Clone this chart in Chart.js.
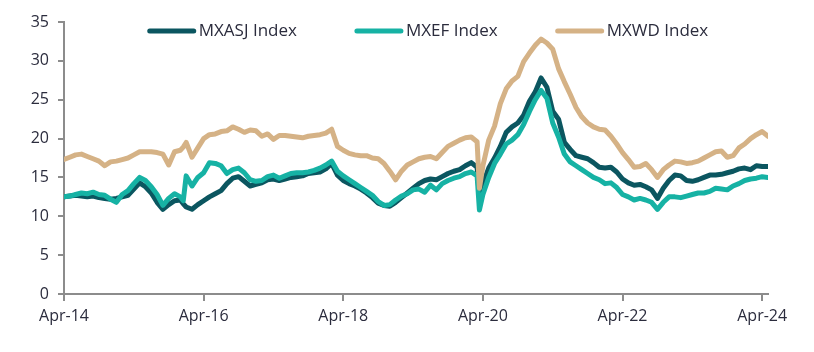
<!DOCTYPE html>
<html>
<head>
<meta charset="utf-8">
<script src="https://cdn.jsdelivr.net/npm/chart.js@4"></script>
<style>
  body { margin: 0; background: #fff; }
  #wrap { width: 814px; height: 352px; }
</style>
</head>
<body>
<div id="wrap"><canvas id="volChart" width="814" height="352"></canvas></div>
<script>
// months since Apr-14 (a couple of extra points for the sharp moves)
const months = [
  0, 1, 2, 3, 4, 5, 6, 7, 8, 9, 10, 11, 12, 13, 14, 15, 16, 17, 18, 19, 20, 20.5,
  21, 22, 23, 24, 25, 26, 27, 28, 29, 30, 31, 32, 33, 34, 35, 36, 37, 38, 39,
  40, 41, 42, 43, 44, 45, 46, 47, 48, 49, 50, 51, 52, 53, 54, 55, 56, 57, 58, 59,
  60, 61, 62, 63, 64, 65, 66, 67, 68, 69, 70, 71, 71.4,
  72, 73, 74, 75, 76, 77, 78, 79, 80, 81, 82, 83, 84, 85, 86, 87, 88, 89,
  90, 91, 92, 93, 94, 95, 96, 97, 98, 99, 100, 101, 102, 103, 104, 105, 106, 107, 108, 109,
  110, 111, 112, 113, 114, 115, 116, 117, 118, 119, 120, 121
];

const mxasj = [
  12.5, 12.6, 12.7, 12.6, 12.5, 12.6, 12.4, 12.3, 12.2, 12.3,
  12.5, 12.7, 13.5, 14.3, 13.8, 13.0, 11.8, 10.9, 11.5, 12.0,
  12.1, 11.6,
  11.2, 10.9, 11.5, 12.0, 12.5, 12.9, 13.3, 14.2, 14.9,
  15.1, 14.5, 13.9, 14.1, 14.3, 14.7, 14.8, 14.6, 14.8, 15.0,
  15.1, 15.2, 15.5, 15.6, 15.7, 16.1, 16.8, 15.3, 14.6, 14.2,
  13.9, 13.5, 13.0, 12.4, 11.7, 11.4, 11.3, 11.8, 12.4, 13.0,
  13.6, 14.2, 14.6, 14.8, 14.7, 15.1, 15.5, 15.8, 16.0, 16.5,
  16.9, 16.3, 12.5,
  14.2, 16.2, 17.5, 19.0, 20.8, 21.5, 22.0, 23.0,
  24.8, 26.0, 27.8, 26.6, 23.5, 22.5, 19.5, 18.6, 17.8, 17.6,
  17.4, 16.9, 16.3, 16.2, 16.3, 15.7, 14.8, 14.3, 14.0, 14.1,
  13.8, 13.4, 12.3, 13.6, 14.6, 15.3, 15.2, 14.6, 14.5, 14.7,
  15.0, 15.3, 15.3, 15.4, 15.6, 15.8, 16.1, 16.2, 16.0, 16.5,
  16.4, 16.4
];

const mxef = [
  12.5, 12.6, 12.8, 13.0, 12.9, 13.1, 12.8, 12.7, 12.2, 11.8,
  12.8, 13.3, 14.2, 15.0, 14.6, 13.8, 12.8, 11.4, 12.3, 12.9,
  12.5, 12.0,
  15.2, 13.9, 15.0, 15.6, 16.9, 16.8, 16.5, 15.5, 16.0,
  16.2, 15.6, 14.7, 14.5, 14.6, 15.1, 15.3, 14.9, 15.2, 15.5,
  15.6, 15.6, 15.7, 15.9, 16.2, 16.6, 17.1, 15.8, 15.2, 14.7,
  14.2, 13.7, 13.2, 12.7, 11.9, 11.4, 11.5, 12.1, 12.6, 12.9,
  13.4, 13.5, 13.1, 14.0, 13.4, 14.2, 14.6, 14.9, 15.1, 15.5,
  15.7, 15.2, 10.8,
  12.8, 15.0, 16.8, 18.0, 19.3, 19.8, 20.5, 21.8,
  23.5, 25.0, 26.2, 25.2, 22.0, 20.2, 18.0, 17.0, 16.5, 16.0,
  15.5, 15.0, 14.7, 14.2, 14.3, 13.7, 12.8, 12.5, 12.1, 12.3,
  12.1, 11.8, 10.9, 11.8, 12.5, 12.5, 12.4, 12.6, 12.8, 13.0,
  13.0, 13.2, 13.6, 13.5, 13.4, 13.9, 14.2, 14.6, 14.8, 14.9,
  15.1, 15.0
];

const mxwd = [
  17.3, 17.6, 17.9, 18.0, 17.7, 17.4, 17.1, 16.5, 17.0, 17.1,
  17.3, 17.5, 17.9, 18.3, 18.3, 18.3, 18.2, 18.0, 16.6, 18.3,
  18.5, 18.9,
  19.5, 17.6, 18.8, 20.0, 20.5, 20.6, 20.9, 21.0, 21.5,
  21.2, 20.8, 21.1, 21.0, 20.3, 20.6, 19.9, 20.4, 20.4, 20.3,
  20.2, 20.1, 20.3, 20.4, 20.5, 20.7, 21.2, 19.0, 18.5, 18.1,
  17.9, 17.8, 17.8, 17.5, 17.4, 16.8, 15.8, 14.7, 15.8, 16.6,
  17.0, 17.4, 17.6, 17.7, 17.4, 18.2, 19.0, 19.4, 19.8, 20.1,
  20.2, 19.6, 13.6,
  16.5, 19.8, 21.6, 24.5, 26.4, 27.4, 28.0, 29.9,
  31.0, 32.0, 32.8, 32.3, 31.5, 29.0, 27.3, 25.7, 24.0, 22.8,
  22.0, 21.5, 21.2, 21.1, 20.3, 19.3, 18.2, 17.3, 16.3, 16.4,
  16.8, 16.0, 15.0, 16.0, 16.6, 17.1, 17.0, 16.8, 16.9, 17.1,
  17.5, 17.9, 18.3, 18.4, 17.6, 17.8, 18.8, 19.3, 20.0, 20.5,
  20.9, 20.3
];

const seriesNames = ["MXASJ Index", "MXEF Index", "MXWD Index"];
const seriesColors = ["#0b5660", "#16b2a4", "#d5b286"];
const xTickLabels = ["Apr-14", "Apr-16", "Apr-18", "Apr-20", "Apr-22", "Apr-24"];
const yTicks = [0, 5, 10, 15, 20, 25, 30, 35];

const textColor = "#2b2c3d";
const axisColor = "#8c8c8c";

function toPoints(values) {
  return months.map((m, i) => ({ x: m, y: values[i] }));
}

// legend drawn inside the plot, line swatch right next to the text
const lineLegend = {
  id: "lineLegend",
  afterDraw(chart) {
    const ctx = chart.ctx;
    const swatch = 48, textGap = 3, itemGap = 58, cy = 31;
    ctx.save();
    ctx.font = "17px 'Open Sans'";
    const widths = seriesNames.map(n => ctx.measureText(n).width);
    const total = widths.reduce((s, w) => s + swatch + textGap + w, 0) + itemGap * (seriesNames.length - 1);
    let x = 428 - total / 2;
    seriesNames.forEach((name, i) => {
      ctx.strokeStyle = seriesColors[i];
      ctx.lineWidth = 5;
      ctx.lineCap = "round";
      ctx.beginPath();
      ctx.moveTo(x + 2, cy);
      ctx.lineTo(x + swatch - 2, cy);
      ctx.stroke();
      ctx.fillStyle = textColor;
      ctx.textBaseline = "middle";
      ctx.fillText(name, x + swatch + textGap, cy);
      x += swatch + textGap + widths[i] + itemGap;
    });
    ctx.restore();
  }
};

const ctx = document.getElementById("volChart").getContext("2d");
new Chart(ctx, {
  type: "line",
  data: {
    datasets: [
      { label: seriesNames[0], data: toPoints(mxasj), borderColor: seriesColors[0], order: 3 },
      { label: seriesNames[1], data: toPoints(mxef), borderColor: seriesColors[1], order: 2 },
      { label: seriesNames[2], data: toPoints(mxwd), borderColor: seriesColors[2], order: 1 }
    ]
  },
  options: {
    responsive: false,
    animation: false,
    layout: { padding: { top: 22, right: 46, left: 0, bottom: 0 } },
    elements: {
      line: { borderWidth: 5, tension: 0, borderJoinStyle: "round", borderCapStyle: "round", fill: false },
      point: { radius: 0, hoverRadius: 0 }
    },
    plugins: {
      legend: { display: false },
      tooltip: { enabled: false }
    },
    scales: {
      x: {
        type: "linear",
        min: 0,
        max: 121,
        afterFit(scale) { scale.height = 58; },
        afterBuildTicks(scale) {
          scale.ticks = xTickLabels.map((_, i) => ({ value: i * 24 }));
        },
        ticks: {
          callback: (v) => xTickLabels[v / 24],
          color: textColor,
          font: { family: "'Open Sans'", size: 16 },
          padding: 6,
          maxRotation: 0
        },
        grid: { drawOnChartArea: false, drawTicks: true, tickLength: 7, color: axisColor, lineWidth: 2 },
        border: { display: true, color: axisColor, width: 2 }
      },
      y: {
        min: 0,
        max: 35,
        afterFit(scale) { scale.width = 64; },
        afterBuildTicks(scale) {
          scale.ticks = yTicks.map(v => ({ value: v }));
        },
        ticks: {
          color: textColor,
          font: { family: "'Open Sans'", size: 16 },
          padding: 9
        },
        grid: { drawOnChartArea: false, drawTicks: true, tickLength: 6, color: axisColor, lineWidth: 2 },
        border: { display: true, color: axisColor, width: 2 }
      }
    }
  },
  plugins: [lineLegend]
});
</script>
</body>
</html>
